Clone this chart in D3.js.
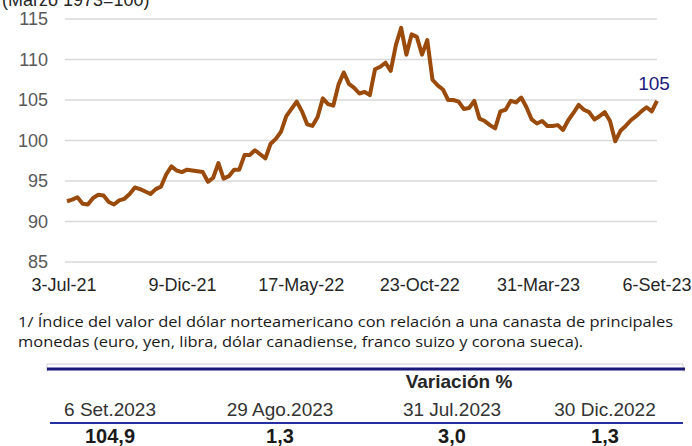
<!DOCTYPE html>
<html>
<head>
<meta charset="utf-8">
<script src="https://cdn.jsdelivr.net/npm/d3@7"></script>
<style>
body{margin:0;background:#fff;}
</style>
</head>
<body>
<div id="canvas"></div>
<script>
var w = 692;
var h = 446;

// weekly index values, oldest first, last week ends 6-Set-23
var lastDate = "2023-09-06";
var values = [
	92.5,92.7,93.0,92.2,92.1,92.9,93.3,93.2,92.4,92.1,
	92.6,92.8,93.4,94.2,94.0,93.7,93.4,94.0,94.3,95.8,
	96.8,96.3,96.1,96.4,96.3,96.2,96.1,94.9,95.4,97.2,
	95.3,95.6,96.4,96.4,98.2,98.2,98.8,98.3,97.8,99.6,
	100.2,101.1,103.0,103.9,104.8,103.6,102.0,101.8,102.9,105.2,
	104.5,104.3,106.9,108.4,107.0,106.5,105.8,106.0,105.6,108.8,
	109.1,109.6,108.6,111.8,113.9,110.6,113.1,112.8,110.6,112.4,
	107.5,106.8,106.3,105.0,105.0,104.8,103.9,104.0,104.9,102.7,
	102.4,101.9,101.5,103.6,103.8,104.9,104.7,105.3,104.1,102.6,
	102.1,102.4,101.8,101.8,101.9,101.3,102.5,103.4,104.4,103.8,
	103.5,102.6,103.0,103.5,102.4,99.9,101.2,101.8,102.5,103.0,
	103.6,104.1,103.6,104.9
];
var tickDates = ["2021-07-03","2021-12-09","2022-05-17","2022-10-23","2023-03-31","2023-09-06"];
var tickLabels = ["3-Jul-21","9-Dic-21","17-May-22","23-Oct-22","31-Mar-23","6-Set-23"];
var yTicks = [85,90,95,100,105,110,115];
var lastLabel = "105";

var unitText = "(Marzo 1973=100)";
var noteLines = [
	"1/ Índice del valor del dólar norteamericano con relación a una canasta de principales",
	"monedas (euro, yen, libra, dólar canadiense, franco suizo y corona sueca)."
];
var tableTitle = "Variación %";
var colHeads = ["6 Set.2023","29 Ago.2023","31 Jul.2023","30 Dic.2022"];
var colValues = ["104,9","1,3","3,0","1,3"];

var parse = d3.timeParse("%Y-%m-%d");
var end = parse(lastDate);
var data = values.map(function(v, i){
	return {date: d3.timeDay.offset(end, -7*(values.length-1-i)), value: v};
});

var svg = d3.select("#canvas").append("svg")
				.attr("width",w)
				.attr("height",h)
				.style("background-color","white")
				.style("font-family","'Liberation Sans', Arial, sans-serif");

var xScale = d3.scaleTime()
				.domain([parse(tickDates[0]), parse(tickDates[tickDates.length-1])])
				.range([64, 657]);
var yScale = d3.scaleLinear()
				.domain([85,115])
				.range([262,19]);

// unit text, cut at the top
svg.append("text")
	.attr("x",2)
	.attr("y",6)
	.attr("font-size",18)
	.attr("fill","#262626")
	.text(unitText);

// gridlines
svg.selectAll(".grid")
	.data(yTicks)
	.join("line")
	.attr("class","grid")
	.attr("x1",65)
	.attr("x2",657)
	.attr("y1",function(d){ return yScale(d); })
	.attr("y2",function(d){ return yScale(d); })
	.attr("stroke","#d9d9d9")
	.attr("stroke-width",1.5);

// y labels
svg.selectAll(".ylab")
	.data(yTicks)
	.join("text")
	.attr("class","ylab")
	.attr("x",48)
	.attr("y",function(d){ return yScale(d); })
	.attr("dy","0.35em")
	.attr("text-anchor","end")
	.attr("font-size",18)
	.attr("fill","#595959")
	.text(function(d){ return d; });

// x labels
svg.selectAll(".xlab")
	.data(tickDates)
	.join("text")
	.attr("class","xlab")
	.attr("x",function(d){ return xScale(parse(d)); })
	.attr("y",285)
	.attr("dy","0.35em")
	.attr("text-anchor","middle")
	.attr("font-size",18)
	.attr("fill","#262626")
	.text(function(d,i){ return tickLabels[i]; });

var line = d3.line()
			.x(function(d){ return xScale(d.date); })
			.y(function(d){ return yScale(d.value); });

svg.append("path")
	.datum(data)
	.attr("d",line)
	.attr("fill","none")
	.attr("stroke","#9a4a0b")
	.attr("stroke-width",4)
	.attr("stroke-linejoin","round");

var last = data[data.length-1];
svg.append("text")
	.attr("x",xScale(last.date)-3)
	.attr("y",yScale(last.value)-11)
	.attr("text-anchor","middle")
	.attr("font-size",19)
	.attr("fill","#1c1c80")
	.text(lastLabel);

// footnote
var noteWidths = [655,565];
svg.selectAll(".note")
	.data(noteLines)
	.join("text")
	.attr("class","note")
	.attr("x",18)
	.attr("y",function(d,i){ return 327 + i*20; })
	.attr("font-family","'Open Sans', sans-serif")
	.attr("font-size",15)
	.attr("fill","#1a1a1a")
	.attr("textLength",function(d,i){ return noteWidths[i]; })
	.attr("lengthAdjust","spacingAndGlyphs")
	.text(function(d){ return d; });

// table
svg.append("path")
	.attr("d","M47,372V364H683V372")
	.attr("fill","none")
	.attr("stroke","#d0d0d0")
	.attr("stroke-width",1);
svg.append("line")
	.attr("x1",47).attr("x2",685)
	.attr("y1",369).attr("y2",369)
	.attr("stroke","#1a1a7a")
	.attr("stroke-width",3);
svg.append("text")
	.attr("x",459)
	.attr("y",388)
	.attr("text-anchor","middle")
	.attr("font-size",19)
	.attr("font-weight","bold")
	.attr("fill","#262626")
	.text(tableTitle);

var colX = [110,280,452,605];
svg.selectAll(".head")
	.data(colHeads)
	.join("text")
	.attr("class","head")
	.attr("x",function(d,i){ return colX[i]; })
	.attr("y",416)
	.attr("text-anchor","middle")
	.attr("font-size",19)
	.attr("fill","#333")
	.text(function(d){ return d; });

svg.append("line")
	.attr("x1",50).attr("x2",683)
	.attr("y1",423).attr("y2",423)
	.attr("stroke","#2530a0")
	.attr("stroke-width",2);

svg.selectAll(".val")
	.data(colValues)
	.join("text")
	.attr("class","val")
	.attr("x",function(d,i){ return colX[i]; })
	.attr("y",443)
	.attr("text-anchor","middle")
	.attr("font-size",20)
	.attr("font-weight","bold")
	.attr("fill","#1a1a1a")
	.text(function(d){ return d; });
</script>
</body>
</html>
